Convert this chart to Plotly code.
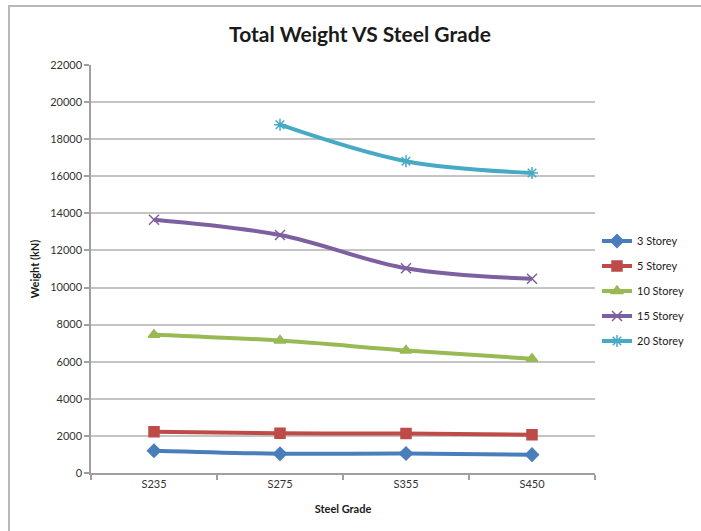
import plotly.graph_objects as go

# Steel grades on the category axis
grades = ["S235", "S275", "S355", "S450"]

# Total weight (kN) per building height
storey_3 = [1200, 1040, 1050, 990]
storey_5 = [2220, 2140, 2130, 2060]
storey_10 = [7460, 7140, 6610, 6160]
storey_15 = [13660, 12830, 11040, 10470]
storey_20 = [None, 18780, 16810, 16180]

y_ticks = list(range(0, 22001, 2000))

series = [
    ("3 Storey", storey_3, "#4a7ebb", "diamond", 10),
    ("5 Storey", storey_5, "#be4b48", "square", 10),
    ("10 Storey", storey_10, "#98b954", "triangle-up", 10),
    ("15 Storey", storey_15, "#7d60a0", "x-thin-open", 10),
    ("20 Storey", storey_20, "#46aac5", "asterisk-open", 10),
]

fig = go.Figure()
for i, (name, vals, color, symbol, size) in enumerate(series):
    fig.add_trace(go.Scatter(
        x=grades, y=vals, name=name, mode="lines+markers",
        line=dict(color=color, width=4, shape="spline", smoothing=1.0),
        marker=dict(symbol=symbol, size=size, color=color,
                    line=dict(color=color, width=1.5)),
        legendgroup=f"g{i}",
    ))

font_family = "Lato, 'Open Sans', sans-serif"

# Outer chart frame (runs off the right and bottom edges)
W, H = 701, 531
ml, mr, mt, mb = 91, 106, 65, 58
pw, ph = W - ml - mr, H - mt - mb

def px_x(p):
    return (p - ml) / pw

def px_y(p):
    return (H - mb - p) / ph

fig.update_layout(
    width=W, height=H,
    margin=dict(l=ml, r=mr, t=mt, b=mb, autoexpand=False),
    paper_bgcolor="white", plot_bgcolor="white",
    font=dict(family=font_family, color="#333333", size=11),
    title=dict(text="<b>Total Weight VS Steel Grade</b>",
               x=px_x(360), xref="paper", xanchor="center",
               y=1 - 35 / H, yanchor="middle",
               font=dict(size=21, color="#1a1a1a", family=font_family)),
    xaxis=dict(
        type="category", range=[-0.5, 3.5], tickson="boundaries",
        ticks="outside", ticklen=5, tickcolor="#a0a0a0", tickwidth=1.5,
        showline=True, linecolor="#a0a0a0", linewidth=1.5,
        showgrid=False, zeroline=False,
        tickfont=dict(size=11, color="#333333"),
        title=dict(text="<b>Steel Grade</b>", standoff=16,
                   font=dict(size=11, color="#1a1a1a")),
    ),
    yaxis=dict(
        range=[0, 22000], tickvals=y_ticks, ticktext=[str(v) for v in y_ticks],
        ticks="outside", ticklen=5, tickcolor="#a0a0a0", tickwidth=1.5,
        showline=True, linecolor="#a0a0a0", linewidth=1.5,
        showgrid=True, gridcolor="#c4c4c4", gridwidth=2,
        zeroline=False,
        tickfont=dict(size=11, color="#333333"),
        title=dict(text="<b>Weight (kN)</b>", standoff=8,
                   font=dict(size=11, color="#1a1a1a")),
    ),
    legend=dict(
        x=px_x(597), xanchor="left", y=px_y(291), yanchor="middle",
        itemwidth=30, tracegroupgap=6, traceorder="grouped",
        font=dict(size=11, color="#1a1a1a"), bgcolor="rgba(0,0,0,0)",
    ),
    shapes=[dict(
        type="rect", xref="paper", yref="paper",
        x0=px_x(9), x1=px_x(720), y0=px_y(545), y1=px_y(6),
        line=dict(color="#b8b8b8", width=2), fillcolor="rgba(0,0,0,0)",
        layer="below",
    )],
)

fig.write_html("out.html")
